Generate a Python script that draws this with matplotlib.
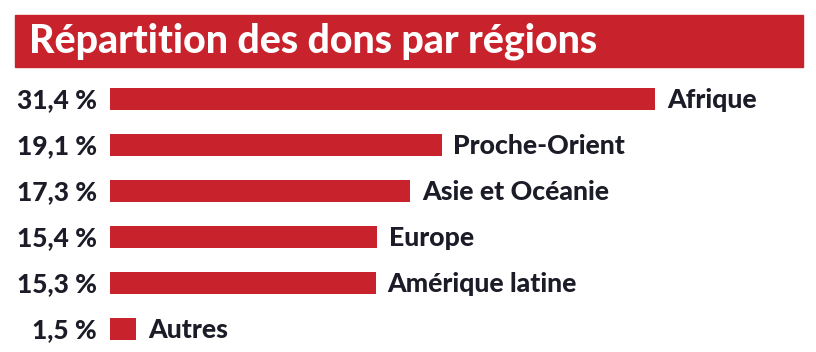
import matplotlib
matplotlib.use('Agg')
import matplotlib.pyplot as plt
from matplotlib.patches import Rectangle

# data
regions = ['Afrique', 'Proche-Orient', 'Asie et Océanie', 'Europe', 'Amérique latine', 'Autres']
shares = [31.4, 19.1, 17.3, 15.4, 15.3, 1.5]
share_labels = ['31,4 %', '19,1 %', '17,3 %', '15,4 %', '15,3 %', '1,5 %']
title = 'Répartition des dons par régions'

red = '#C8222C'
ink = '#1C1C28'
font = 'Lato'

W, H = 816, 352
fig = plt.figure(figsize=(W / 100, H / 100), dpi=100)
fig.patch.set_facecolor('white')

# title banner
fig.patches.append(Rectangle((15 / W, 1 - 67 / H), 788 / W, 52 / H,
                             transform=fig.transFigure, color=red, zorder=0))
fig.text(29 / W, 1 - 41 / H, title, color='white', fontsize=28.3, fontweight=900,
         family=font, va='center', ha='left')

# bars
ax = fig.add_axes([110 / W, 0, 693 / W, (H - 76) / H])
ypos = list(range(len(regions)))
ax.barh(ypos, shares, height=0.49, color=red)
ax.set_xlim(0, 693 / 17.36)
ax.set_ylim(len(regions) - 0.5, -0.5)
ax.axis('off')

for y, v, name, lab in zip(ypos, shares, regions, share_labels):
    ax.annotate(name, (v, y), xytext=(8.5, -1), textcoords='offset points',
                ha='left', va='center', fontsize=19.2, fontweight=900, family=font, color=ink)
    ax.annotate(lab, (0, y), xytext=(-9.5, -1), textcoords='offset points',
                ha='right', va='center', fontsize=19, fontweight=900, family=font, color=ink)

fig.savefig('out.png', dpi=100)
